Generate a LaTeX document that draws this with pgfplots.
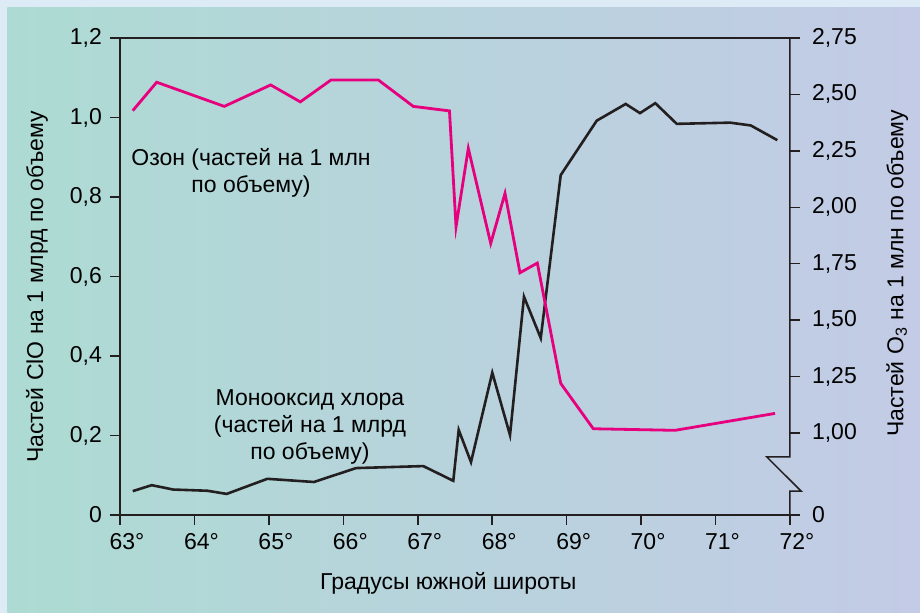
\documentclass[border=0pt]{standalone}
\usepackage{pgfplots}
\pgfplotsset{compat=1.18}
\usepackage{fontspec}
\setmainfont{Liberation Sans}
\definecolor{bgborder}{RGB}{221,235,246}
\definecolor{bgleft}{RGB}{173,219,211}
\definecolor{bgright}{RGB}{195,203,230}
\definecolor{ozone}{RGB}{230,0,126}
\definecolor{clo}{RGB}{35,31,32}
\begin{document}
\fontsize{11.5}{13.5}\selectfont
\begin{tikzpicture}
\fill[bgborder] (0,0) rectangle (460pt,306.5pt);
\shade[left color=bgleft,right color=bgright] (3.65pt,0) rectangle (460pt,302.5pt);
\begin{axis}[
  at={(60pt,49pt)}, anchor=south west,
  scale only axis, width=335pt, height=238.5pt,
  xmin=63, xmax=72, ymin=0, ymax=1.2,
  axis x line*=bottom, axis y line*=left,
  axis line style={line width=0.75pt, -, clo},
  tick align=outside, major tick length=5pt,
  tick style={line width=0.75pt, clo},
  xtick={63,64,65,66,67,68,69,70,71,72},
  xticklabels={63°,64°,65°,66°,67°,68°,69°,70°,71°,72°},
  ytick={0,0.2,0.4,0.6,0.8,1.0,1.2},
  yticklabels={0,{0,2},{0,4},{0,6},{0,8},{1,0},{1,2}},
  xticklabel style={xshift=3.5pt},
  clip=false,
]
\draw[line width=0.75pt, clo] (rel axis cs:0,1) -- (rel axis cs:1,1);
\addplot[clo, line width=1.3pt, mark=none] coordinates {
(63.171,0.060) (63.426,0.075) (63.716,0.064) (64.173,0.061) (64.433,0.053)
(64.979,0.091) (65.606,0.083) (66.170,0.118) (67.074,0.123) (67.477,0.086)
(67.550,0.214) (67.715,0.133) (68.001,0.358) (68.239,0.201) (68.427,0.549)
(68.652,0.445) (68.920,0.855) (69.404,0.992) (69.793,1.034) (69.985,1.011)
(70.191,1.036) (70.479,0.984) (71.195,0.987) (71.473,0.980) (71.830,0.943)
};
\node[rotate=90] at (rel axis cs:-0.124,0.478) {Частей ClO на 1 млрд по объему};
\node at (rel axis cs:0.49,-0.143) {Градусы южной широты};
\node[align=center] at (axis cs:64.76,0.86) {Озон (частей на 1 млн\\по объему)};
\node[align=center] at (axis cs:65.552,0.221) {Монооксид хлора\\(частей на 1 млрд\\по объему)};
\end{axis}
\begin{axis}[
  at={(60pt,49pt)}, anchor=south west,
  scale only axis, width=335pt, height=238.5pt,
  xmin=63, xmax=72, ymin=0.637, ymax=2.75,
  axis x line=none, axis y line*=right,
  y axis line style={draw=none},
  tick align=outside, major tick length=5pt,
  tick style={line width=0.75pt, clo},
  ytick={0.637,1,1.25,1.5,1.75,2,2.25,2.5,2.75},
  yticklabels={0,{1,00},{1,25},{1,50},{1,75},{2,00},{2,25},{2,50},{2,75}},
  yticklabel style={xshift=2pt},
  clip=false,
]
\draw[line width=0.75pt, clo] (axis cs:72,2.75) -- (axis cs:72,0.894) -- (axis cs:71.69,0.894) -- (axis cs:72.148,0.743) -- (axis cs:72,0.743) -- (axis cs:72,0.637);
\addplot[ozone, line width=1.4pt, mark=none] coordinates {
(63.171,2.428) (63.493,2.554) (64.401,2.447) (65.024,2.542) (65.422,2.467)
(65.835,2.564) (66.470,2.564) (66.940,2.447) (67.426,2.427) (67.514,1.914)
(67.679,2.261) (67.980,1.840) (68.172,2.062) (68.373,1.710) (68.606,1.753)
(68.920,1.220) (69.358,1.019) (70.456,1.012) (71.799,1.087)
};
\node[rotate=90] at (rel axis cs:1.16,0.507) {Частей O\textsubscript{3} на 1 млн по объему};
\end{axis}
\end{tikzpicture}
\end{document}
